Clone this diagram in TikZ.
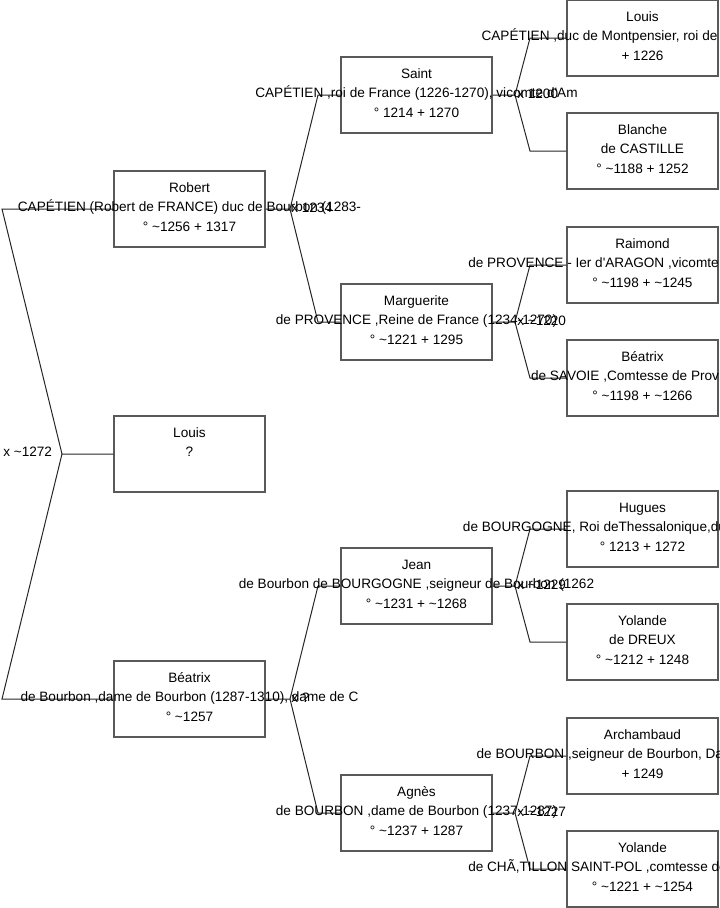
\documentclass[tikz,border=0pt]{standalone}
\usepackage{fontspec}
\setmainfont{Liberation Sans}
\usetikzlibrary{calc}
\newdimen\pxu \pxu=0.75pt
\newcommand{\ca}{\textasciitilde}
\newcommand{\ap}{\textquotesingle}
% line cut off by the page edge: visible part plus its hidden width
\newcommand{\cutoff}[2]{#1\rule{#2\pxu}{0pt}}
\tikzset{
  personbox/.style={rectangle, draw=black!65, line width=1pt,
    minimum width=113.25pt, minimum height=57pt, inner sep=0pt},
  persontext/.style={align=center, inner sep=0pt, yshift=1pt,
    font=\fontsize{10.2}{14.6}\selectfont},
  wed/.style={anchor=west, inner sep=0pt, font=\fontsize{10.2}{12}\selectfont},
  link/.style={draw=black!85, line width=0.75pt}
}

\begin{document}
\begin{tikzpicture}[x=0.75pt, y=-0.75pt]
  \useasboundingbox (0,0) rectangle (719,908);
  \clip (0,0) rectangle (719,908);

  % generation 1
  \node[personbox] (rob) at (189.5,209) {};
  \node[personbox] (lou) at (189.5,454) {};
  \node[personbox] (bea) at (189.5,699) {};
  % generation 2
  \node[personbox] (sai) at (416.5,95)  {};
  \node[personbox] (mar) at (416.5,322) {};
  \node[personbox] (jea) at (416.5,586) {};
  \node[personbox] (agn) at (416.5,813) {};
  % generation 3
  \node[personbox] (lviii) at (642.5,38)  {};
  \node[personbox] (bla)   at (642.5,151) {};
  \node[personbox] (rai)   at (642.5,265) {};
  \node[personbox] (bsav)  at (642.5,378) {};
  \node[personbox] (hug)   at (642.5,529) {};
  \node[personbox] (ydre)  at (642.5,642) {};
  \node[personbox] (arc)   at (642.5,756) {};
  \node[personbox] (ycha)  at (642.5,869) {};

  % forks
  \coordinate (f0) at (62,454);  \coordinate (f0a) at (2,209);   \coordinate (f0b) at (2,699);
  \coordinate (f1) at (290,209); \coordinate (f1a) at (318,95);  \coordinate (f1b) at (318,322);
  \coordinate (f2) at (290,699); \coordinate (f2a) at (318,586); \coordinate (f2b) at (318,813);
  \coordinate (f3) at (515,95);  \coordinate (f3a) at (530,38);  \coordinate (f3b) at (530,151);
  \coordinate (f4) at (515,322); \coordinate (f4a) at (530,265); \coordinate (f4b) at (530,378);
  \coordinate (f5) at (515,586); \coordinate (f5a) at (530,529); \coordinate (f5b) at (530,642);
  \coordinate (f6) at (515,813); \coordinate (f6a) at (530,756); \coordinate (f6b) at (530,869);

  \draw[link] (lou.west) -- (f0) -- (f0a) -- (rob.west);
  \draw[link] (f0) -- (f0b) -- (bea.west);
  \draw[link] (rob.east) -- (f1) -- (f1a) -- (sai.west);
  \draw[link] (f1) -- (f1b) -- (mar.west);
  \draw[link] (bea.east) -- (f2) -- (f2a) -- (jea.west);
  \draw[link] (f2) -- (f2b) -- (agn.west);
  \draw[link] (sai.east) -- (f3) -- (f3a) -- (lviii.west);
  \draw[link] (f3) -- (f3b) -- (bla.west);
  \draw[link] (mar.east) -- (f4) -- (f4a) -- (rai.west);
  \draw[link] (f4) -- (f4b) -- (bsav.west);
  \draw[link] (jea.east) -- (f5) -- (f5a) -- (hug.west);
  \draw[link] (f5) -- (f5b) -- (ydre.west);
  \draw[link] (agn.east) -- (f6) -- (f6a) -- (arc.west);
  \draw[link] (f6) -- (f6b) -- (ycha.west);

  % marriages
  \node[wed] (m0) at ($(f0a|-f0)+(1,-2)$) {x \ca1272};
  \node[wed] (m1) at ($(f1)+(1,-1)$) {x 1234};
  \node[wed] (m2) at ($(f2)+(1,-1)$) {x ?};
  \node[wed] (m3) at ($(f3)+(2,-1)$) {x 1200};
  \node[wed] (m4) at ($(f4)+(2,-1)$) {x \ca1220};
  \node[wed] (m5) at ($(f5)+(2,-1)$) {x \ca1229};
  \node[wed] (m6) at ($(f6)+(2,-1)$) {x \ca1227};

  % texts
  \node[persontext] at (rob) {\strut Robert\\CAPÉTIEN (Robert de FRANCE) duc de Bourbon (1283-\\° \ca1256 + 1317\strut};
  \node[persontext] at (lou) {\strut Louis\\?\\\strut};
  \node[persontext] at (bea) {\strut Béatrix\\de Bourbon ,dame de Bourbon (1287-1310), dame de C\\° \ca1257\strut};
  \node[persontext] at (sai) {\strut Saint\\CAPÉTIEN ,roi de France (1226-1270), vicomte d\ap Am\\° 1214 + 1270\strut};
  \node[persontext] at (mar) {\strut Marguerite\\de PROVENCE ,Reine de France (1234-1270)\\° \ca1221 + 1295\strut};
  \node[persontext] at (jea) {\strut Jean\\de Bourbon de BOURGOGNE ,seigneur de Bourbon (1262\\° \ca1231 + \ca1268\strut};
  \node[persontext] at (agn) {\strut Agnès\\de BOURBON ,dame de Bourbon (1237-1287)\\° \ca1237 + 1287\strut};
  \node[persontext] at (lviii) {\strut Louis\\\cutoff{CAPÉTIEN ,duc de Montpensier, roi de}{86}\\+ 1226\strut};
  \node[persontext] at (bla) {\strut Blanche\\de CASTILLE\\° \ca1188 + 1252\strut};
  \node[persontext] at (rai) {\strut Raimond\\\cutoff{de PROVENCE - Ier d\ap ARAGON ,vicomte}{98}\\° \ca1198 + \ca1245\strut};
  \node[persontext] at (bsav) {\strut Béatrix\\\cutoff{de SAVOIE ,Comtesse de Prov}{35}\\° \ca1198 + \ca1266\strut};
  \node[persontext] at (hug) {\strut Hugues\\\cutoff{de BOURGOGNE, Roi deThessalonique,du}{96}\\° 1213 + 1272\strut};
  \node[persontext] at (ydre) {\strut Yolande\\de DREUX\\° \ca1212 + 1248\strut};
  \node[persontext] at (arc) {\strut Archambaud\\\cutoff{de BOURBON ,seigneur de Bourbon, Dam}{74}\\+ 1249\strut};
  \node[persontext] at (ycha) {\strut Yolande\\\cutoff{de CHÃ,TILLON SAINT-POL ,comtesse de}{90}\\° \ca1221 + \ca1254\strut};
\end{tikzpicture}
\end{document}
